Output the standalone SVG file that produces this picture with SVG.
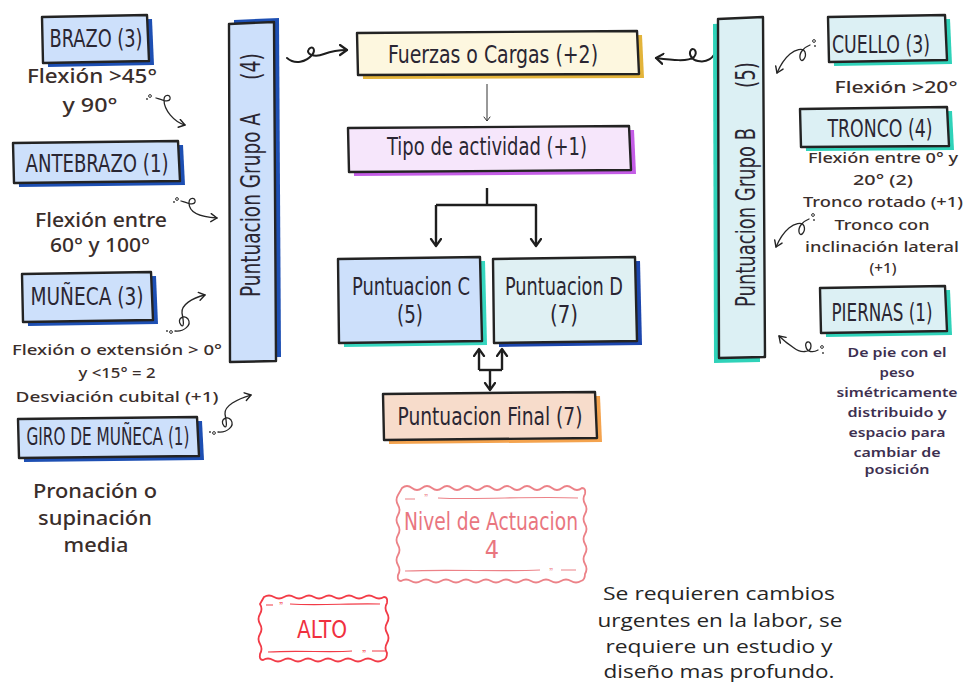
<svg xmlns="http://www.w3.org/2000/svg" width="968" height="687" viewBox="0 0 968 687">
<defs>
<style>
.box{stroke:#232323;stroke-width:2.4;stroke-linejoin:round}
.lbl{font-family:"Liberation Sans Narrow","DejaVu Sans Condensed","Roboto Condensed","Liberation Sans",sans-serif;font-size:25px;fill:#2a2632;text-anchor:middle}
.rot{font-family:"Liberation Sans Narrow","DejaVu Sans Condensed","Roboto Condensed","Liberation Sans",sans-serif;font-size:26px;fill:#2a2632}
.note{font-family:"Noto Sans","DejaVu Sans",sans-serif;font-weight:500;fill:#3a2e2b;text-anchor:middle}
.para{font-family:"Noto Sans","DejaVu Sans",sans-serif;font-weight:600;font-size:13px;fill:#3d3050;text-anchor:middle}
.body{font-family:"Open Sans","Noto Sans",sans-serif;font-size:19px;fill:#252525;text-anchor:middle}
.sq{fill:none;stroke:#262626;stroke-width:1.3;stroke-linecap:round}
.sqb{fill:none;stroke:#1e1e1e;stroke-width:2;stroke-linecap:round}
.con{fill:none;stroke:#1e1e1e;stroke-width:2.4;stroke-linejoin:round}
.dot{fill:none;stroke:#333;stroke-width:1}
.stamp1{fill:none;stroke:#ec8288;stroke-width:1.8}
.stamp2{fill:none;stroke:#f23b47;stroke-width:1.8}
.q{font-family:"Liberation Sans",sans-serif;text-anchor:middle}
</style>
<marker id="ah" markerWidth="12" markerHeight="12" refX="7" refY="5" orient="auto" markerUnits="userSpaceOnUse"><path d="M1,1 L7,5 L1,9" fill="none" stroke="#222" stroke-width="1.4" stroke-linecap="round" stroke-linejoin="round"/></marker>
<marker id="ahb" markerWidth="14" markerHeight="14" refX="8" refY="6" orient="auto" markerUnits="userSpaceOnUse"><path d="M1,1 L8,6 L1,11" fill="none" stroke="#1e1e1e" stroke-width="2.2" stroke-linecap="round" stroke-linejoin="round"/></marker>
<marker id="aht" markerWidth="10" markerHeight="10" refX="5" refY="4" orient="auto" markerUnits="userSpaceOnUse"><path d="M1,1 L5,4 L1,7" fill="none" stroke="#333" stroke-width="1" stroke-linecap="round"/></marker>
</defs>
<rect width="968" height="687" fill="#ffffff"/>

<g id="connectors">
  <path class="sqb" d="M287,58 C295,65 306,62 312,55 C316,50 313,45 309,49 C305,54 314,58 324,54 C332,51 340,50 347,50" marker-end="url(#ahb)"/>
  <path class="sqb" d="M717,49 C714,58 707,63 698,61 C692,60 688,54 691,50 C694,47 698,52 694,57 C688,62 672,60 656,58" marker-end="url(#ahb)"/>
  <path d="M487,84 V121" fill="none" stroke="#333" stroke-width="1" marker-end="url(#aht)"/>
  <path class="con" d="M487,188 V205 M436,205 H536 V246" marker-end="url(#ahb)"/>
  <path class="con" d="M436,205 V246" marker-end="url(#ahb)"/>
  <path class="con" d="M479,370 V349" marker-end="url(#ahb)"/>
  <path class="con" d="M502,370 V349" marker-end="url(#ahb)"/>
  <path class="con" d="M479,370 H502"/>
  <path class="con" d="M490,370 V390" marker-end="url(#ahb)"/>
  <circle class="dot" cx="150" cy="96" r="1.4"/><circle cx="147" cy="99" r="0.9" fill="#333"/>
  <path class="sq" d="M156,98 C162,100 169,103 170,99 C171,94 164,94 164,100 C164,110 174,122 185,125" marker-end="url(#ah)"/>
  <circle class="dot" cx="177" cy="199" r="1.4"/><circle cx="174" cy="202" r="0.9" fill="#333"/>
  <path class="sq" d="M181,201 C187,203 194,206 195,202 C196,197 189,197 189,203 C189,212 200,217 217,218" marker-end="url(#ah)"/>
  <circle class="dot" cx="171" cy="332" r="1.4"/><circle cx="167" cy="331" r="0.9" fill="#333"/>
  <path class="sq" d="M175,331 C184,332 192,325 188,319 C184,314 176,319 181,325 C185,329 183,318 182,313 C181,305 192,298 205,295" marker-end="url(#ah)"/>
  <g transform="translate(43,101)">
  <circle class="dot" cx="171" cy="332" r="1.4"/><circle cx="167" cy="331" r="0.9" fill="#333"/>
  <path class="sq" d="M175,331 C184,332 192,325 188,319 C184,314 176,319 181,325 C185,329 183,318 182,313 C181,305 194,298 208,294" marker-end="url(#ah)"/>
  </g>
  <circle class="dot" cx="814" cy="41" r="1.4"/><circle cx="815" cy="46" r="0.9" fill="#333"/>
  <path class="sq" d="M810,45 C805,47 799,52 800,58 C801,64 807,58 805,52 C803,47 795,50 790,54 C784,59 780,66 777,73" marker-end="url(#ah)"/>
  <g transform="translate(-1,174)">
  <circle class="dot" cx="814" cy="41" r="1.4"/><circle cx="815" cy="46" r="0.9" fill="#333"/>
  <path class="sq" d="M810,45 C805,47 799,52 800,58 C801,64 807,58 805,52 C803,47 795,50 790,54 C784,59 780,66 777,73" marker-end="url(#ah)"/>
  </g>
  <circle class="dot" cx="822" cy="347" r="1.4"/><circle cx="823" cy="353" r="0.9" fill="#333"/>
  <path class="sq" d="M818,350 C813,353 807,352 806,347 C804,341 811,340 811,346 C811,353 800,353 794,348 C788,344 783,340 779,336" marker-end="url(#ah)"/>
</g>

<g id="brazo">
  <path transform="translate(5,4)" d="M42,17 L147,15 L149,61 L43,63 Z" fill="#1d4fb3"/>
  <path class="box" d="M42,17 L147,15 L149,61 L43,63 Z" fill="#cde0fb"/>
  <text class="lbl" x="96" y="47" textLength="93" lengthAdjust="spacingAndGlyphs">BRAZO (3)</text>
  <text class="note" x="92" y="83" font-size="19" textLength="130" lengthAdjust="spacingAndGlyphs">Flexión &gt;45°</text>
  <text class="note" x="90" y="112" font-size="19" textLength="55" lengthAdjust="spacingAndGlyphs">y 90°</text>
</g>

<g id="antebrazo">
  <path transform="translate(5,4)" d="M13,143 L178,141 L180,181 L14,183 Z" fill="#1d4fb3"/>
  <path class="box" d="M13,143 L178,141 L180,181 L14,183 Z" fill="#cde0fb"/>
  <text class="lbl" x="97" y="172" textLength="143" lengthAdjust="spacingAndGlyphs">ANTEBRAZO (1)</text>
  <text class="note" x="101" y="227" font-size="19" textLength="132" lengthAdjust="spacingAndGlyphs">Flexión entre</text>
  <text class="note" x="100" y="252" font-size="19" textLength="100" lengthAdjust="spacingAndGlyphs">60° y 100°</text>
</g>

<g id="muneca">
  <path transform="translate(5,4)" d="M22,274 L151,272 L153,320 L23,322 Z" fill="#1d4fb3"/>
  <path class="box" d="M22,274 L151,272 L153,320 L23,322 Z" fill="#cde0fb"/>
  <text class="lbl" x="87" y="305" textLength="113" lengthAdjust="spacingAndGlyphs">MUÑECA  (3)</text>
  <text class="note" x="117" y="355" font-size="15" textLength="210" lengthAdjust="spacingAndGlyphs">Flexión o extensión &gt; 0°</text>
  <text class="note" x="117" y="378" font-size="15" textLength="77" lengthAdjust="spacingAndGlyphs">y &lt;15° = 2</text>
  <text class="note" x="117" y="402" font-size="15" textLength="203" lengthAdjust="spacingAndGlyphs">Desviación cubital  (+1)</text>
</g>

<g id="giro">
  <path transform="translate(5,4)" d="M18,419 L197,417 L199,456 L19,458 Z" fill="#1d4fb3"/>
  <path class="box" d="M18,419 L197,417 L199,456 L19,458 Z" fill="#cde0fb"/>
  <text class="lbl" x="108" y="445" textLength="163" lengthAdjust="spacingAndGlyphs">GIRO DE MUÑECA (1)</text>
  <text class="note" x="95" y="498" font-size="19" textLength="124" lengthAdjust="spacingAndGlyphs">Pronación o</text>
  <text class="note" x="95" y="525" font-size="19" textLength="114" lengthAdjust="spacingAndGlyphs">supinación</text>
  <text class="note" x="96" y="552" font-size="19" textLength="65" lengthAdjust="spacingAndGlyphs">media</text>
</g>

<g id="grupoA">
  <path transform="translate(5,-4)" d="M229,24 L274,22 L276,361 L230,362 Z" fill="#1d4fb3"/>
  <path class="box" d="M229,24 L274,22 L276,361 L230,362 Z" fill="#cde0fb"/>
  <text class="rot" transform="translate(260,297) rotate(-90)" textLength="184" lengthAdjust="spacingAndGlyphs">Puntuacion Grupo A</text>
  <text class="rot" transform="translate(260,80) rotate(-90)" textLength="27" lengthAdjust="spacingAndGlyphs">(4)</text>
</g>

<g id="grupoB">
  <path transform="translate(-5,5)" d="M718,19 L763,17 L765,357 L719,358 Z" fill="#2fd2b9"/>
  <path class="box" d="M718,19 L763,17 L765,357 L719,358 Z" fill="#dcf0f4"/>
  <text class="rot" transform="translate(755,307) rotate(-90)" textLength="179" lengthAdjust="spacingAndGlyphs">Puntuacion Grupo B</text>
  <text class="rot" transform="translate(755,88) rotate(-90)" textLength="26" lengthAdjust="spacingAndGlyphs">(5)</text>
</g>

<g id="cuello">
  <path transform="translate(5,4)" d="M828,17 L945,15 L947,60 L829,62 Z" fill="#2fd2b9"/>
  <path class="box" d="M828,17 L945,15 L947,60 L829,62 Z" fill="#dcf0f4"/>
  <text class="lbl" x="881" y="53" textLength="98" lengthAdjust="spacingAndGlyphs">CUELLO (3)</text>
  <text class="note" x="896" y="93" font-size="17" textLength="123" lengthAdjust="spacingAndGlyphs">Flexión &gt;20°</text>
</g>

<g id="tronco">
  <path transform="translate(5,4)" d="M800,109 L947,107 L949,146 L801,147 Z" fill="#2fd2b9"/>
  <path class="box" d="M800,109 L947,107 L949,146 L801,147 Z" fill="#dcf0f4"/>
  <text class="lbl" x="880" y="137" font-size="24" textLength="105" lengthAdjust="spacingAndGlyphs">TRONCO (4)</text>
  <text class="note" x="883" y="163" font-size="15" textLength="150" lengthAdjust="spacingAndGlyphs">Flexión entre 0° y</text>
  <text class="note" x="883" y="185" font-size="15" textLength="60" lengthAdjust="spacingAndGlyphs">20°  (2)</text>
  <text class="note" x="883" y="207" font-size="15" textLength="160" lengthAdjust="spacingAndGlyphs">Tronco rotado  (+1)</text>
  <text class="note" x="882" y="230" font-size="15" textLength="95" lengthAdjust="spacingAndGlyphs">Tronco con</text>
  <text class="note" x="882" y="252" font-size="15" textLength="154" lengthAdjust="spacingAndGlyphs">inclinación lateral</text>
  <text class="note" x="883" y="273" font-size="15" textLength="27" lengthAdjust="spacingAndGlyphs">(+1)</text>
</g>

<g id="piernas">
  <path transform="translate(5,4)" d="M820,288 L945,286 L947,331 L821,333 Z" fill="#2fd2b9"/>
  <path class="box" d="M820,288 L945,286 L947,331 L821,333 Z" fill="#dcf0f4"/>
  <text class="lbl" x="882" y="321" font-size="24" textLength="101" lengthAdjust="spacingAndGlyphs">PIERNAS (1)</text>
  <text class="para" x="897" y="357" textLength="99" lengthAdjust="spacingAndGlyphs">De pie con el</text>
  <text class="para" x="897" y="377" textLength="35" lengthAdjust="spacingAndGlyphs">peso</text>
  <text class="para" x="897" y="397" textLength="121" lengthAdjust="spacingAndGlyphs">simétricamente</text>
  <text class="para" x="897" y="417" textLength="99" lengthAdjust="spacingAndGlyphs">distribuido y</text>
  <text class="para" x="897" y="437" textLength="97" lengthAdjust="spacingAndGlyphs">espacio para</text>
  <text class="para" x="897" y="457" textLength="87" lengthAdjust="spacingAndGlyphs">cambiar de</text>
  <text class="para" x="897" y="474" textLength="65" lengthAdjust="spacingAndGlyphs">posición</text>
</g>

<g id="fuerzas">
  <path transform="translate(5,4)" d="M357,33 L637,31 L639,74 L358,75 Z" fill="#e3b43a"/>
  <path class="box" d="M357,33 L637,31 L639,74 L358,75 Z" fill="#fdf7df"/>
  <text class="lbl" x="493" y="63" font-size="26" textLength="210" lengthAdjust="spacingAndGlyphs">Fuerzas o Cargas (+2)</text>
</g>

<g id="tipo">
  <path transform="translate(5,4)" d="M348,128 L629,126 L631,170 L349,172 Z" fill="#c45de6"/>
  <path class="box" d="M348,128 L629,126 L631,170 L349,172 Z" fill="#f6e6fb"/>
  <text class="lbl" x="487" y="155" font-size="26" textLength="200" lengthAdjust="spacingAndGlyphs">Tipo de actividad (+1)</text>
</g>

<g id="puntC">
  <path transform="translate(5,4)" d="M338,259 L480,257 L482,341 L339,343 Z" fill="#36d6bf"/>
  <path class="box" d="M338,259 L480,257 L482,341 L339,343 Z" fill="#cde0fb"/>
  <text class="lbl" x="411" y="295" font-size="23" textLength="118" lengthAdjust="spacingAndGlyphs">Puntuacion C</text>
  <text class="lbl" x="410" y="323" font-size="23" textLength="26" lengthAdjust="spacingAndGlyphs">(5)</text>
</g>

<g id="puntD">
  <path transform="translate(5,4)" d="M493,259 L635,257 L637,341 L494,343 Z" fill="#1c46ad"/>
  <path class="box" d="M493,259 L635,257 L637,341 L494,343 Z" fill="#dff0f3"/>
  <text class="lbl" x="564" y="295" font-size="23" textLength="118" lengthAdjust="spacingAndGlyphs">Puntuacion D</text>
  <text class="lbl" x="564" y="323" font-size="23" textLength="28" lengthAdjust="spacingAndGlyphs">(7)</text>
</g>

<g id="final">
  <path transform="translate(5,4)" d="M383,394 L595,392 L597,438 L384,440 Z" fill="#f4a34e"/>
  <path class="box" d="M383,394 L595,392 L597,438 L384,440 Z" fill="#f7dccb"/>
  <text class="lbl" x="490" y="425" font-size="24" textLength="185" lengthAdjust="spacingAndGlyphs">Puntuacion Final (7)</text>
</g>

<g id="nivel">
  <path class="stamp1" d="M402,488 q5,-4 10,0 t10,0 t10,0 t10,0 t10,0 t10,0 t10,0 t10,0 t10,0 t10,0 t10,0 t10,0 t10,0 t10,0 t10,0 t10,0 t10,0 t10,0 q4,0 3,6 q-3,5 0,10 t0,10 t0,10 t0,10 t0,10 t0,10 t0,10 t0,10 q0,6 -4,7 q-5,3 -10,0 t-10,0 t-10,0 t-10,0 t-10,0 t-10,0 t-10,0 t-10,0 t-10,0 t-10,0 t-10,0 t-10,0 t-10,0 t-10,0 t-10,0 t-10,0 t-10,0 t-10,0 q-4,0 -3,-6 q3,-5 0,-10 t0,-10 t0,-10 t0,-10 t0,-10 t0,-10 t0,-10 t0,-10 Z"/>
  <path fill="none" stroke="#ec8288" stroke-width="1.2" d="M405,499 H415 M438,498 C480,500 530,496 578,498 M405,571 C450,569 500,572 540,570 M561,570 H576"/>
  <text class="q" x="426" y="502" font-size="11" fill="#ec8288">”</text>
  <text class="q" x="551" y="576" font-size="11" fill="#ec8288">”</text>
  <text class="lbl" x="491" y="530" font-size="23" style="fill:#e9767f" textLength="174" lengthAdjust="spacingAndGlyphs">Nivel de Actuacion</text>
  <text class="lbl" x="492" y="558" font-size="22" style="fill:#e9767f">4</text>
</g>

<g id="alto">
  <path class="stamp2" d="M264,597 q5,-3 10,0 t10,0 t10,0 t10,0 t10,0 t10,0 t10,0 t10,0 t10,0 t10,0 t10,0 t10,0 q4,0 3,6 q-3,5 0,10 t0,10 t0,10 t0,10 t0,10 q0,6 -4,7 q-5,3 -10,0 t-10,0 t-10,0 t-10,0 t-10,0 t-10,0 t-10,0 t-10,0 t-10,0 t-10,0 t-10,0 t-10,0 q-4,0 -3,-6 q3,-5 0,-10 t0,-10 t0,-10 t0,-10 t0,-10 Z"/>
  <path fill="none" stroke="#f23b47" stroke-width="1.1" d="M266,605 H273 M290,604 C320,606 350,603 380,604 M268,652 C300,650 330,653 352,651 M372,651 H385"/>
  <text class="q" x="281" y="610" font-size="11" fill="#f23b47">”</text>
  <text class="q" x="364" y="658" font-size="11" fill="#f23b47">”</text>
  <text class="lbl" x="322" y="638" font-size="27" style="fill:#f0303f" textLength="50" lengthAdjust="spacingAndGlyphs">ALTO</text>
</g>

<g id="conclusion">
  <text class="body" x="719" y="600" textLength="232" lengthAdjust="spacingAndGlyphs">Se requieren cambios</text>
  <text class="body" x="720" y="627" textLength="245" lengthAdjust="spacingAndGlyphs">urgentes en la labor, se</text>
  <text class="body" x="719" y="653" textLength="227" lengthAdjust="spacingAndGlyphs">requiere un estudio y</text>
  <text class="body" x="719" y="678" textLength="231" lengthAdjust="spacingAndGlyphs">diseño mas profundo.</text>
</g>
</svg>
